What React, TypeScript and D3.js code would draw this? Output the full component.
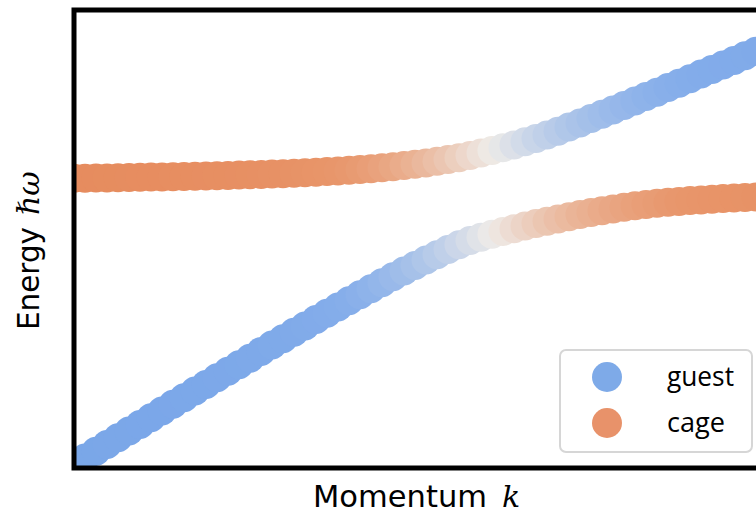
import React from "react";
import * as d3 from "d3";

// Momentum index (arbitrary units) of each scatter point
const momentum = [
  0, 1, 2, 3, 4, 5, 6, 7, 8, 9, 10, 11, 12, 13, 14, 15, 16, 17, 18, 19,
  20, 21, 22, 23, 24, 25, 26, 27, 28, 29, 30, 31, 32, 33, 34, 35, 36, 37, 38, 39,
  40, 41, 42, 43, 44, 45, 46, 47, 48, 49, 50, 51, 52, 53, 54, 55, 56, 57, 58, 59,
  60, 61, 62, 63,
];

// Upper branch energy (arbitrary units)
const upperBand = [
  289.7, 289.8, 290.0, 290.1, 290.3, 290.5, 290.7, 290.9, 291.1, 291.3,
  291.5, 291.7, 292.0, 292.3, 292.6, 292.9, 293.2, 293.6, 293.9, 294.3,
  294.8, 295.3, 295.8, 296.4, 297.0, 297.7, 298.5, 299.3, 300.3, 301.2,
  302.4, 303.7, 305.0, 306.7, 308.4, 310.3, 312.5, 314.9, 317.4, 320.2,
  323.1, 326.3, 329.6, 333.1, 336.8, 340.9, 345.1, 349.4, 353.7, 358.1,
  362.5, 367.0, 371.4, 375.8, 380.4, 384.8, 389.3, 393.9, 398.4, 403.0,
  407.6, 412.2, 416.8, 421.3,
];

// Lower branch energy (arbitrary units)
const lowerBand = [
  3.3, 10.1, 16.8, 23.5, 30.2, 36.9, 43.5, 50.3, 57.0, 63.7,
  70.3, 76.9, 83.6, 90.2, 96.7, 103.3, 109.8, 116.4, 122.9, 129.3,
  135.8, 142.1, 148.4, 154.8, 161.0, 167.2, 173.3, 179.3, 185.3, 191.2,
  196.9, 202.5, 208.0, 213.3, 218.4, 223.3, 227.4, 230.8, 233.8, 236.6,
  239.3, 241.9, 244.4, 246.8, 249.1, 251.3, 253.4, 255.4, 257.3, 259.1,
  260.8, 262.3, 263.6, 264.7, 265.7, 266.6, 267.4, 268.1, 268.8, 269.4,
  270.0, 270.5, 271.0, 271.4,
];

// Guest character of the upper branch (lower branch = 1 - this)
const guestWeightUpper = [
  0.022, 0.023, 0.024, 0.026, 0.027, 0.028, 0.030, 0.032, 0.034, 0.036,
  0.038, 0.041, 0.044, 0.047, 0.050, 0.054, 0.058, 0.062, 0.068, 0.074,
  0.080, 0.087, 0.096, 0.105, 0.116, 0.128, 0.141, 0.156, 0.174, 0.194,
  0.217, 0.243, 0.271, 0.302, 0.336, 0.373, 0.411, 0.450, 0.489, 0.527,
  0.565, 0.601, 0.635, 0.666, 0.695, 0.721, 0.745, 0.766, 0.785, 0.802,
  0.817, 0.831, 0.843, 0.854, 0.865, 0.874, 0.882, 0.890, 0.897, 0.903,
  0.909, 0.914, 0.919, 0.923,
];

const legendLabels = ["guest", "cage"];
const legendWeights = [1, 0];

const W = 756;
const H = 519;
const plot = { left: 74, top: 10, right: 762, bottom: 468 };

export default function App() {
  const x = d3.scaleLinear().domain([0, 62.545]).range([plot.left, plot.right]);
  const y = d3.scaleLinear().domain([0, 458]).range([plot.bottom, plot.top]);
  const color = d3
    .scaleLinear<string>()
    .domain([0, 0.12, 0.5, 0.88, 1])
    .range(["#E68A5C", "#E8966B", "#EEEBE8", "#84ADEA", "#78A5E8"])
    .interpolate(d3.interpolateRgb)
    .clamp(true);

  const r = 14.5;

  const upperPts = momentum.map((k, i) => ({ k, e: upperBand[i], w: guestWeightUpper[i] }));
  const lowerPts = momentum.map((k, i) => ({ k, e: lowerBand[i], w: 1 - guestWeightUpper[i] }));

  return (
    <svg
      width={W}
      height={H}
      style={{ position: "absolute", left: 0, top: 0, background: "#fff" }}
    >
      <defs>
        <clipPath id="plotclip">
          <rect
            x={plot.left}
            y={plot.top}
            width={plot.right - plot.left}
            height={plot.bottom - plot.top}
          />
        </clipPath>
      </defs>
      <g clipPath="url(#plotclip)">
        {upperPts.map((p, i) => (
          <circle key={"u" + i} cx={x(p.k)} cy={y(p.e)} r={r} fill={color(p.w)} />
        ))}
        {lowerPts.map((p, i) => (
          <circle key={"l" + i} cx={x(p.k)} cy={y(p.e)} r={r} fill={color(p.w)} />
        ))}
      </g>
      <rect
        x={plot.left}
        y={plot.top}
        width={plot.right - plot.left}
        height={plot.bottom - plot.top}
        fill="none"
        stroke="#000"
        strokeWidth={5}
      />
      {/* legend */}
      <rect
        x={560}
        y={350}
        width={192}
        height={102}
        rx={6}
        fill="#fff"
        fillOpacity={0.85}
        stroke="#d6d6d6"
        strokeWidth={2}
      />
      {legendLabels.map((lab, i) => (
        <g key={lab}>
          <circle
            cx={607}
            cy={377 + i * 46}
            r={15}
            fill={legendWeights[i] === 1 ? "#7EAAE8" : "#E8926A"}
          />
          <text
            x={667}
            y={386 + i * 46}
            fontFamily="'Open Sans', 'Noto Sans', sans-serif"
            fontSize={27}
            textLength={lab === "guest" ? 67 : 58}
            lengthAdjust="spacingAndGlyphs"
            fill="#000"
          >
            {lab}
          </text>
        </g>
      ))}
      {/* x label */}
      <text
        x={313}
        y={507}
        fontFamily="'DejaVu Sans', sans-serif"
        fontSize={30}
        textLength={174}
        lengthAdjust="spacingAndGlyphs"
        fill="#000"
      >
        Momentum
      </text>
      <text
        x={502}
        y={507}
        fontFamily="'DejaVu Serif', serif"
        fontStyle="italic"
        fontSize={30}
        fill="#000"
      >
        k
      </text>
      {/* y label */}
      <g transform="translate(39,330) rotate(-90)">
        <text
          x={0}
          y={0}
          fontFamily="'DejaVu Sans', sans-serif"
          fontSize={30}
          textLength={103}
          lengthAdjust="spacingAndGlyphs"
          fill="#000"
        >
          Energy
        </text>
        <text
          x={115}
          y={0}
          fontFamily="'DejaVu Serif', serif"
          fontStyle="italic"
          fontSize={30}
          fill="#000"
        >
          ℏω
        </text>
      </g>
    </svg>
  );
}
